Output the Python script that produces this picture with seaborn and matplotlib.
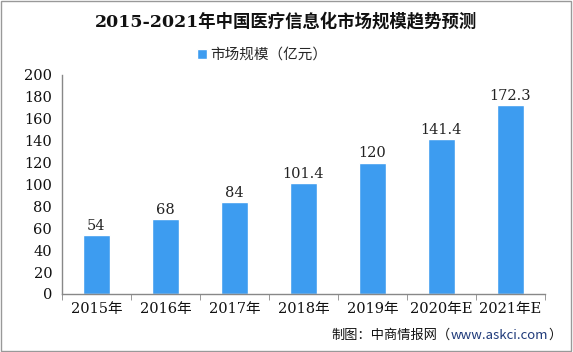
import numpy as np
import pandas as pd
import matplotlib.pyplot as plt
import seaborn as sns

years = ['2015年', '2016年', '2017年', '2018年', '2019年', '2020年E', '2021年E']
values = [54, 68, 84, 101.4, 120, 141.4, 172.3]
labels = ['54', '68', '84', '101.4', '120', '141.4', '172.3']

sns.set_style('white')
plt.rcParams['font.family'] = ['Noto Sans CJK SC', 'DejaVu Sans']
serif = ['DejaVu Serif', 'Noto Sans CJK SC']

df = pd.DataFrame({'year': years, 'value': values})

fig = plt.figure(figsize=(5.73, 3.52), dpi=100)
ax = fig.add_axes([0.108, 0.165, 0.843, 0.622])
bar_color = '#3d9cf0'
sns.barplot(data=df, x='year', y='value', color=bar_color, width=0.4,
            saturation=1, ax=ax, label='市场规模（亿元）')

for i, (v, t) in enumerate(zip(values, labels)):
    ax.text(i, v + 2, t, ha='center', va='bottom', fontsize=10.5,
            family=serif, color='#222222')

ax.set_ylim(0, 200)
ax.set_yticks(range(0, 201, 20))
ax.set_xlim(-0.5, len(years) - 0.5)
ax.set_xticks(np.arange(-0.5, len(years)), minor=True)
ax.tick_params(axis='x', which='major', length=0, pad=6)
ax.tick_params(axis='x', which='minor', length=4, color='#888888', direction='out', bottom=True)
ax.tick_params(axis='y', length=4, color='#888888', direction='out', pad=3)
for lab in ax.get_xticklabels() + ax.get_yticklabels():
    lab.set_family(serif)
    lab.set_fontsize(10.5)
    lab.set_color('#111111')
ax.set_xlabel('')
ax.set_ylabel('')
for s in ['top', 'right']:
    ax.spines[s].set_visible(False)
for s in ['left', 'bottom']:
    ax.spines[s].set_color('#888888')
    ax.spines[s].set_linewidth(1)

ax.legend(loc='center', bbox_to_anchor=(0.415, 1.092), frameon=False,
          fontsize=10.5, handlelength=0.7, handleheight=0.7, handletextpad=0.2)

fig.text(0.5, 0.94, '2015-2021年中国医疗信息化市场规模趋势预测', ha='center',
         va='center', fontsize=12.5, fontweight='bold', color='#111111',
         family=['DejaVu Serif', 'Noto Sans CJK SC'])

# source line, pieces placed one after another
renderer = fig.canvas.get_renderer()
x = 0.578
for txt, col in [('制图：中商情报网（', '#111111'), ('www.askci.com', '#1f3a7a'), ('）', '#111111')]:
    t = fig.text(x, 0.048, txt, ha='left', va='center', fontsize=9.5, color=col)
    bb = t.get_window_extent(renderer=renderer)
    x += bb.width / fig.bbox.width

fig.patches.append(plt.Rectangle((0.002, 0.003), 0.995, 0.994, transform=fig.transFigure,
                                 fill=False, edgecolor='#999999', linewidth=1))

fig.savefig('out.png', dpi=100)
